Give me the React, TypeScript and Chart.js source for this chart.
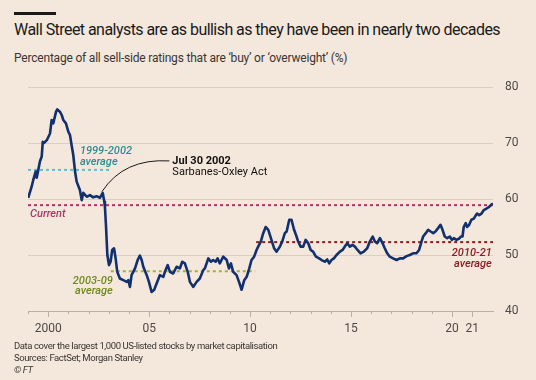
import React, { useEffect, useRef } from "react";
import { Chart, registerables } from "chart.js";

Chart.register(...registerables);

// Decimal-year dates and share of 'buy'/'overweight' ratings (%)
const dates = [
  1999.01, 1999.18, 1999.26, 1999.38, 1999.43, 1999.51, 1999.59, 1999.68, 1999.73, 1999.79, 1999.93,
  2000.09, 2000.17, 2000.25, 2000.39, 2000.45, 2000.58, 2000.67, 2000.75, 2000.88,
  2001.0, 2001.08, 2001.16, 2001.24, 2001.33, 2001.41, 2001.57, 2001.66, 2001.74, 2001.91,
  2002.07, 2002.23, 2002.4, 2002.56, 2002.7, 2002.78, 2002.81, 2002.86, 2002.93,
  2003.01, 2003.09, 2003.17, 2003.26, 2003.34, 2003.42, 2003.55, 2003.72, 2003.89, 2003.97,
  2004.05, 2004.13, 2004.3, 2004.43, 2004.54, 2004.63, 2004.71, 2004.88, 2004.99,
  2005.12, 2005.25, 2005.37, 2005.53, 2005.7, 2005.78, 2005.92,
  2006.03, 2006.19, 2006.36, 2006.52, 2006.64, 2006.77, 2006.91,
  2007.02, 2007.18, 2007.35, 2007.51, 2007.68, 2007.76, 2007.93,
  2008.06, 2008.17, 2008.29, 2008.39, 2008.5, 2008.67, 2008.84, 2008.95,
  2009.05, 2009.16, 2009.33, 2009.45, 2009.58, 2009.71, 2009.83, 2009.96,
  2010.07, 2010.2, 2010.32, 2010.4, 2010.53, 2010.65, 2010.77, 2010.9,
  2011.03, 2011.19, 2011.31, 2011.48, 2011.59, 2011.72, 2011.81, 2011.94,
  2012.05, 2012.17, 2012.3, 2012.38, 2012.5, 2012.63, 2012.75, 2012.88,
  2013.0, 2013.12, 2013.26, 2013.42, 2013.54, 2013.7, 2013.82, 2013.92,
  2014.03, 2014.15, 2014.28, 2014.45, 2014.58, 2014.69, 2014.81, 2014.94,
  2015.07, 2015.19, 2015.32, 2015.47, 2015.63, 2015.8, 2015.93,
  2016.07, 2016.18, 2016.29, 2016.43, 2016.56, 2016.67, 2016.79, 2016.92,
  2017.08, 2017.25, 2017.42, 2017.58, 2017.75, 2017.91,
  2018.07, 2018.24, 2018.37, 2018.49, 2018.57, 2018.7, 2018.82, 2018.94,
  2019.07, 2019.18, 2019.31, 2019.43, 2019.53, 2019.64, 2019.76, 2019.89, 2019.99,
  2020.09, 2020.22, 2020.34, 2020.44, 2020.52, 2020.58, 2020.68, 2020.75, 2020.85, 2020.96,
  2021.08, 2021.18, 2021.24, 2021.34, 2021.46, 2021.57, 2021.71, 2021.84, 2021.95, 2022.03,
];

const buyShare = [
  60.2, 62.2, 63.4, 64.9, 63.8, 65.2, 66.7, 67.6, 70.2, 70.0, 70.5,
  71.7, 74.1, 73.5, 75.6, 76.0, 75.6, 75.0, 74.1, 73.5,
  72.0, 71.4, 69.6, 67.9, 64.9, 63.1, 61.6, 59.8, 61.1, 60.4,
  60.7, 60.3, 60.5, 60.2, 61.1, 59.5, 58.6, 55.4, 50.0,
  48.2, 48.8, 50.9, 51.2, 49.4, 47.0, 45.8, 45.5, 45.2, 45.5,
  44.3, 46.4, 47.6, 49.1, 49.9, 49.1, 47.9, 46.4, 45.2,
  43.4, 43.8, 44.9, 46.4, 46.1, 47.0, 48.2,
  47.0, 46.7, 47.9, 47.6, 48.8, 48.5, 47.0,
  45.2, 44.3, 45.2, 45.8, 47.3, 47.6, 49.4,
  48.8, 49.1, 48.8, 49.4, 48.5, 49.7, 49.1, 47.6,
  48.5, 47.0, 46.4, 45.2, 43.8, 45.5, 46.1, 47.6,
  49.1, 49.7, 50.9, 51.5, 52.4, 53.9, 55.0, 54.5,
  53.0, 51.2, 50.6, 51.5, 52.4, 53.9, 54.2, 56.3,
  56.3, 54.6, 53.3, 52.4, 51.5, 51.5, 52.7, 52.1,
  50.9, 50.6, 49.7, 49.4, 49.1, 48.8, 49.2, 48.5,
  49.1, 49.4, 50.0, 50.6, 50.9, 51.5, 52.1, 51.5,
  51.8, 51.5, 50.9, 50.3, 50.6, 51.2, 52.4,
  53.3, 52.4, 52.1, 53.0, 52.1, 51.2, 50.3, 49.7,
  49.4, 49.1, 49.4, 49.4, 49.8, 50.0,
  50.3, 50.3, 50.9, 52.4, 53.3, 53.9, 54.5, 54.2,
  53.9, 54.2, 54.8, 55.4, 54.5, 53.3, 53.0, 53.3, 52.7,
  53.0, 52.7, 52.9, 53.3, 53.3, 55.0, 55.7, 55.0, 55.4, 56.3,
  56.5, 57.1, 57.4, 57.1, 57.4, 58.0, 58.3, 58.6, 59.0, 59.2,
];

const yTickValues = [40, 50, 60, 70, 80];
const xTickYears = [2000, 2005, 2010, 2015, 2020, 2021];
const xTickLabels = ["2000", "05", "10", "15", "20", "21"];
const minorTickYears = [
  1999, 2000, 2001, 2002, 2003, 2004, 2005, 2006, 2007, 2008, 2009, 2010,
  2011, 2012, 2013, 2014, 2015, 2016, 2017, 2018, 2019, 2020, 2021,
];

const avg9902 = 65.2;
const avg9902Span = [1999, 2003.15];
const avg0309 = 47.1;
const avg0309Span = [2003.1, 2010.25];
const avg1021 = 52.3;
const avg1021Span = [2010.3, 2022.03];
const currentLevel = 58.9;
const currentSpan = [1999, 2022.03];
const soxDate = 2002.66;
const soxLevel = 61.3;

const BG = "#f4e7dc";
const NAVY = "#12306e";
const TEAL_LINE = "#5fc0cc";
const TEAL_TEXT = "#2a8e96";
const MAGENTA = "#b0356c";
const OLIVE_LINE = "#a3b32b";
const OLIVE_TEXT = "#6f8a1c";
const DARKRED = "#8e1c22";
const GRID = "#dbcfc4";
const AXIS = "#bcb0a5";
const TICK_TEXT = "#4e4946";
const ANNOT_FONT = "Roboto, 'Open Sans', sans-serif";

const flatLine = (span: number[], level: number) => [
  { x: span[0], y: level },
  { x: span[1], y: level },
];

const decorPlugin = {
  id: "ftDecor",
  afterDatasetsDraw(chart: any) {
    const { ctx, chartArea } = chart;
    const xs = chart.scales.x;
    const ys = chart.scales.y;
    const X = (v: number) => xs.getPixelForValue(v);
    const Y = (v: number) => ys.getPixelForValue(v);
    ctx.save();

    // x-axis tick marks
    ctx.strokeStyle = AXIS;
    ctx.lineWidth = 1;
    for (const yr of minorTickYears) {
      const px = Math.round(X(yr)) + 0.5;
      const len = xTickYears.includes(yr) ? 6 : 3;
      ctx.beginPath();
      ctx.moveTo(px, chartArea.bottom);
      ctx.lineTo(px, chartArea.bottom + len);
      ctx.stroke();
    }

    // Sarbanes-Oxley connector
    const sx = X(soxDate);
    const sy = Y(soxLevel);
    const ex = X(2006.0);
    const ey = Y(66.8);
    ctx.strokeStyle = "#1a1a1a";
    ctx.lineWidth = 1;
    ctx.beginPath();
    ctx.moveTo(sx, sy);
    ctx.quadraticCurveTo(X(2003.75), Y(67.3), ex, ey);
    ctx.stroke();

    ctx.textBaseline = "middle";
    // Jul 30 2002 label
    ctx.fillStyle = "#111";
    ctx.textAlign = "left";
    ctx.font = `bold 11px ${ANNOT_FONT}`;
    ctx.fillText("Jul 30 2002", X(2006.15), Y(66.8));
    ctx.font = `11px ${ANNOT_FONT}`;
    ctx.fillText("Sarbanes-Oxley Act", X(2006.15), Y(66.8) + 11.5);

    // 1999-2002 average
    ctx.font = `italic 500 11px ${ANNOT_FONT}`;
    ctx.fillStyle = TEAL_TEXT;
    ctx.fillText("1999-2002", X(2001.57), Y(avg9902) - 19);
    ctx.fillText("average", X(2001.57), Y(avg9902) - 8);

    // Current
    ctx.fillStyle = MAGENTA;
    ctx.fillText("Current", X(1999.1), Y(currentLevel) + 9);

    // 2003-09 average
    ctx.textAlign = "right";
    ctx.fillStyle = OLIVE_TEXT;
    ctx.fillText("2003-09", X(2003.2), Y(avg0309) + 10);
    ctx.fillText("average", X(2003.2), Y(avg0309) + 20.5);

    // 2010-21 average
    ctx.fillStyle = DARKRED;
    ctx.fillText("2010-21", X(2021.97), Y(avg1021) + 11);
    ctx.fillText("average", X(2021.97), Y(avg1021) + 22);

    ctx.restore();
  },
};

export default function App() {
  const canvasRef = useRef<HTMLCanvasElement | null>(null);

  useEffect(() => {
    if (!canvasRef.current) return;
    const dotted = (color: string, data: any[]) => ({
      data,
      borderColor: color,
      borderWidth: 2,
      borderDash: [3, 3],
      borderCapStyle: "butt",
      pointRadius: 0,
      fill: false,
    });
    const chart = new Chart(canvasRef.current, {
      type: "line",
      data: {
        datasets: [
          {
            data: dates.map((d, i) => ({ x: d, y: buyShare[i] })),
            borderColor: NAVY,
            borderWidth: 2.6,
            pointRadius: 0,
            tension: 0,
            borderJoinStyle: "round",
            fill: false,
          },
          dotted(MAGENTA, flatLine(currentSpan, currentLevel)),
          dotted(TEAL_LINE, flatLine(avg9902Span, avg9902)),
          dotted(OLIVE_LINE, flatLine(avg0309Span, avg0309)),
          dotted(DARKRED, flatLine(avg1021Span, avg1021)),
        ] as any,
      },
      options: {
        animation: false,
        responsive: false,
        devicePixelRatio: 1,
        layout: { padding: { left: 28, top: 87, right: 0, bottom: 0 } },
        plugins: {
          legend: { display: false },
          tooltip: { enabled: false },
          title: { display: false },
        },
        scales: {
          x: {
            type: "linear",
            min: 1999,
            max: 2022.03,
            afterBuildTicks: (scale: any) => {
              scale.ticks = xTickYears.map((v) => ({ value: v }));
            },
            afterFit: (scale: any) => {
              scale.height = 69;
            },
            ticks: {
              autoSkip: false,
              maxRotation: 0,
              padding: 11,
              color: TICK_TEXT,
              font: { family: "Roboto, sans-serif", size: 12 },
              callback: (v: any) => {
                const i = xTickYears.indexOf(Number(v));
                return i >= 0 ? xTickLabels[i] : "";
              },
            },
            grid: { display: false, drawTicks: false },
            border: { display: true, color: AXIS, width: 1 },
          },
          y: {
            position: "right",
            min: 40,
            max: 80,
            afterBuildTicks: (scale: any) => {
              scale.ticks = yTickValues.map((v) => ({ value: v }));
            },
            afterFit: (scale: any) => {
              scale.width = 43;
            },
            ticks: {
              padding: 12,
              color: TICK_TEXT,
              font: { family: "Roboto, sans-serif", size: 12 },
            },
            grid: {
              drawTicks: false,
              color: (c: any) => (c.tick && c.tick.value === 40 ? "rgba(0,0,0,0)" : GRID),
              lineWidth: 1,
            },
            border: { display: false },
          },
        },
      } as any,
      plugins: [decorPlugin],
    });
    return () => chart.destroy();
  }, []);

  const font = "Roboto, 'Open Sans', sans-serif";
  return (
    <div
      style={{
        position: "fixed",
        left: 0,
        top: 0,
        width: 536,
        height: 380,
        background: BG,
        overflow: "hidden",
        fontFamily: font,
      }}
    >
      <div style={{ position: "absolute", left: 14, top: 12, width: 42, height: 3, background: "#1a1a1a" }} />
      <div
        style={{
          position: "absolute",
          left: 14,
          top: 20,
          fontSize: 16,
          lineHeight: "20px",
          color: "#1a1a1a",
          whiteSpace: "nowrap",
          letterSpacing: -0.55,
        }}
      >
        Wall Street analysts are as bullish as they have been in nearly two decades
      </div>
      <div
        style={{
          position: "absolute",
          left: 14,
          top: 51,
          fontSize: 12,
          lineHeight: "15px",
          color: "#3a3633",
          whiteSpace: "nowrap",
          letterSpacing: -0.2,
        }}
      >
        Percentage of all sell-side ratings that are ‘buy’ or ‘overweight’ (%)
      </div>
      <canvas ref={canvasRef} width={536} height={380} style={{ position: "absolute", left: 0, top: 0, width: 536, height: 380 }} />
      <div
        style={{
          position: "absolute",
          left: 14,
          top: 340,
          fontSize: 9.5,
          lineHeight: "12px",
          color: "#3a3633",
          whiteSpace: "nowrap",
          letterSpacing: -0.4,
        }}
      >
        <div>Data cover the largest 1,000 US-listed stocks by market capitalisation</div>
        <div>Sources: FactSet; Morgan Stanley</div>
        <div style={{ fontStyle: "italic" }}>© FT</div>
      </div>
    </div>
  );
}
